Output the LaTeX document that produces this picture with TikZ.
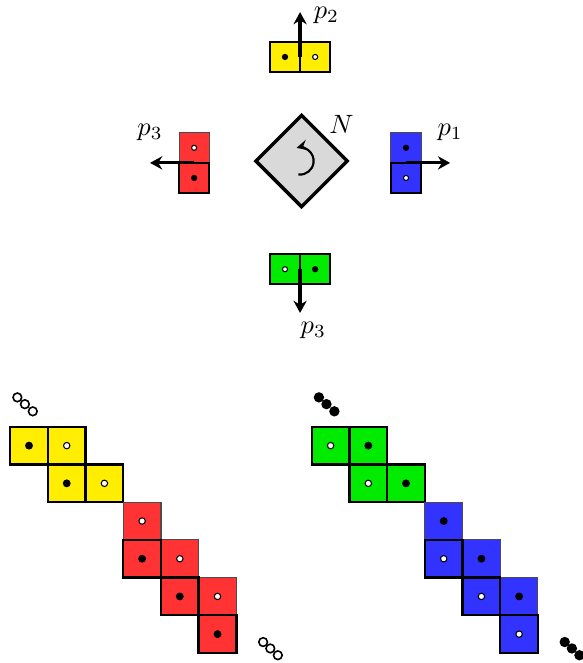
\documentclass[tikz,border=0pt]{standalone}
\usepackage{amsmath}
\usepackage{amssymb}
\usepackage{tikz}
\usetikzlibrary{shapes.geometric,arrows.meta}

\definecolor{tileyellow}{RGB}{255,238,0}
\definecolor{tilered}{RGB}{255,51,51}
\definecolor{tilegreen}{RGB}{0,235,0}
\definecolor{tileblue}{RGB}{51,51,255}

\begin{document}
\begin{tikzpicture}[x=0.5cm, y=0.5cm,
	tile/.style={draw, line width=0.9pt},
	halftile/.style={draw=black!70, line width=0.4pt},
	bdot/.style={fill=black, radius=0.105},
	wdot/.style={draw=black, fill=white, line width=0.4pt, radius=0.085},
	pointer/.style={-{Stealth[length=4.6pt, width=5pt, inset=1.5pt]}, line width=1.2pt},
	bead/.style={draw=black, line width=0.6pt, radius=0.115}]
	\useasboundingbox (-8,-13.316) rectangle (7.44,4.271);

	% turning tile in the middle
	\node[diamond, draw, line width=1.3pt, fill=black!15, minimum width=1.23cm, minimum height=1.23cm, inner sep=0pt,
		label={[name=Nlab, label distance=-3pt]45:$N$}] (N) at (0,0) {};
	\coordinate (spin) at (-0.04,0);
	\draw[thick, -stealth] ([shift={(-97:0.36)}]spin) arc (-97:105:0.36);

	% the four dominoes round it
	\begin{scope}[shift={(-0.04,2.76)}, scale=0.8]
		\draw[tile, fill=tileyellow] (-1,-0.5) rectangle (0,0.5);
		\draw[tile, fill=tileyellow] (0,-0.5) rectangle (1,0.5);
		\path[bdot] (-0.5,0) circle;
		\path[wdot] (0.5,0) circle;
		\coordinate (up) at (0,0);
	\end{scope}
	\begin{scope}[shift={(-0.04,-2.87)}, scale=0.8]
		\draw[tile, fill=tilegreen] (-1,-0.5) rectangle (0,0.5);
		\draw[tile, fill=tilegreen] (0,-0.5) rectangle (1,0.5);
		\path[wdot] (-0.5,0) circle;
		\path[bdot] (0.5,0) circle;
		\coordinate (down) at (0,0);
	\end{scope}
	\begin{scope}[shift={(-2.85,-0.05)}, scale=0.8]
		\draw[halftile, fill=tilered] (-0.5,0) rectangle (0.5,1);
		\draw[tile, fill=tilered] (-0.5,-1) rectangle (0.5,0);
		\path[wdot] (0,0.5) circle;
		\path[bdot] (0,-0.5) circle;
		\coordinate (west) at (0,0);
	\end{scope}
	\begin{scope}[shift={(2.77,-0.05)}, scale=0.8]
		\draw[halftile, fill=tileblue] (-0.5,0) rectangle (0.5,1);
		\draw[tile, fill=tileblue] (-0.5,-1) rectangle (0.5,0);
		\path[bdot] (0,0.5) circle;
		\path[wdot] (0,-0.5) circle;
		\coordinate (east) at (0,0);
	\end{scope}

	\coordinate (upTip) at (-0.04,3.95);
	\coordinate (downTip) at (-0.04,-4.03);
	\coordinate (westTip) at (-4.02,-0.05);
	\coordinate (eastTip) at (3.94,-0.05);
	\draw[pointer] (up) -- (upTip);
	\draw[pointer] (down) -- (downTip);
	\draw[pointer] (west) -- (westTip);
	\draw[pointer] (east) -- (eastTip);
	\node[right=5pt, inner sep=0pt, yshift=-1.2pt] (pUp) at (upTip) {$p_2$};
	\node[below, xshift=5pt] (pDown) at (downTip) {$p_3$};
	\node[above=5pt] (pWest) at (westTip) {$p_3$};
	\node[above=5pt] (pEast) at (eastTip) {$p_1$};

	% left staircase
	\begin{scope}[shift={(-7.73,-7.05)}]
		\foreach \c/\r/\s in {0/0/bdot, 1/0/wdot, 1/1/bdot, 2/1/wdot} {
			\draw[tile, fill=tileyellow] (\c,-\r) rectangle ++(1,-1);
			\path[\s] (\c+0.5,-\r-0.5) circle;
		}
		\foreach \c/\r in {3/2, 4/3, 5/4} {
			\draw[halftile, fill=tilered] (\c,-\r) rectangle ++(1,-1);
			\path[wdot] (\c+0.5,-\r-0.5) circle;
		}
		\foreach \c/\r in {3/3, 4/4, 5/5} {
			\draw[tile, fill=tilered] (\c,-\r) rectangle ++(1,-1);
			\path[bdot] (\c+0.5,-\r-0.5) circle;
		}
		\foreach \x/\y in {0.19/0.78, 0.39/0.6, 0.6/0.41, 6.71/-5.71, 6.9/-5.88, 7.1/-6.06}
			\path[bead, fill=white] (\x,\y) circle;
	\end{scope}

	% right staircase
	\begin{scope}[shift={(0.27,-7.05)}]
		\foreach \c/\r/\s in {0/0/wdot, 1/0/bdot, 1/1/wdot, 2/1/bdot} {
			\draw[tile, fill=tilegreen] (\c,-\r) rectangle ++(1,-1);
			\path[\s] (\c+0.5,-\r-0.5) circle;
		}
		\foreach \c/\r in {3/2, 4/3, 5/4} {
			\draw[halftile, fill=tileblue] (\c,-\r) rectangle ++(1,-1);
			\path[bdot] (\c+0.5,-\r-0.5) circle;
		}
		\foreach \c/\r in {3/3, 4/4, 5/5} {
			\draw[tile, fill=tileblue] (\c,-\r) rectangle ++(1,-1);
			\path[wdot] (\c+0.5,-\r-0.5) circle;
		}
		\foreach \x/\y in {0.19/0.78, 0.39/0.6, 0.6/0.41, 6.71/-5.71, 6.9/-5.88, 7.1/-6.06}
			\path[bead, fill=black] (\x,\y) circle;
	\end{scope}
\end{tikzpicture}
\end{document}
